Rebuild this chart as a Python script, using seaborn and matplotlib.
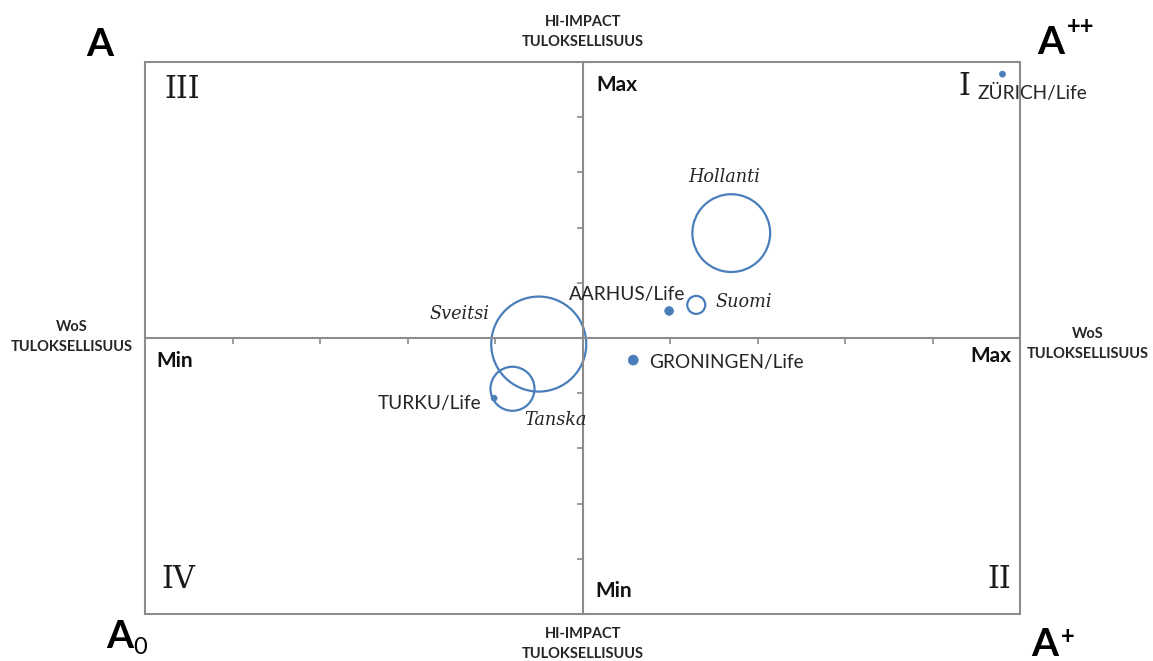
import pandas as pd
import matplotlib.pyplot as plt
import seaborn as sns

# Bubble data (x = WoS, y = HI-IMPACT, koko = bubble area, relative)
maat = ['Sveitsi', 'Hollanti', 'Tanska', 'Suomi']
maat_x = [-0.50, 1.70, -0.80, 1.30]
maat_y = [-0.11, 1.90, -0.92, 0.60]
maat_koko = [100, 67, 21.5, 3.6]

yksikot = ['ZÜRICH/Life', 'AARHUS/Life', 'GRONINGEN/Life', 'TURKU/Life']
yksikot_x = [4.80, 0.99, 0.58, -1.01]
yksikot_y = [4.78, 0.49, -0.40, -1.09]
yksikot_koko = [0.4, 0.85, 1.1, 0.4]

ticks = [-4, -3, -2, -1, 1, 2, 3, 4]

maat_df = pd.DataFrame({'nimi': maat, 'x': maat_x, 'y': maat_y, 'koko': maat_koko})
yks_df = pd.DataFrame({'nimi': yksikot, 'x': yksikot_x, 'y': yksikot_y, 'koko': yksikot_koko})

sns.set_style('white')
plt.rcParams['font.family'] = ['Lato', 'DejaVu Sans']

blue = '#4A7EBB'
gray = '#8C8C8C'

fig = plt.figure(figsize=(11.53, 6.61), dpi=100)
ax = fig.add_axes([145 / 1153, 1 - 614 / 661, 875 / 1153, 552 / 661])

sns.scatterplot(data=maat_df, x='x', y='y', size='koko', sizes=(0, 4680),
                size_norm=(0, 100), legend=False, ax=ax)
rings = ax.collections[-1]
rings.set_facecolor('none')
rings.set_edgecolor(blue)
rings.set_linewidth(1.6)

sns.scatterplot(data=yks_df, x='x', y='y', size='koko', sizes=(0, 4680),
                size_norm=(0, 100), legend=False, ax=ax)
dots = ax.collections[-1]
dots.set_facecolor(blue)
dots.set_edgecolor(blue)
dots.set_linewidth(0.5)

ax.set_xlim(-5, 5)
ax.set_ylim(-5, 5)
ax.set_xlabel('')
ax.set_ylabel('')

# center axes with ticks
ax.spines['left'].set_position(('data', 0))
ax.spines['bottom'].set_position(('data', 0))
ax.spines['top'].set_visible(False)
ax.spines['right'].set_visible(False)
for s in ['left', 'bottom']:
    ax.spines[s].set_color(gray)
    ax.spines[s].set_linewidth(1.5)
ax.set_xticks(ticks)
ax.set_yticks(ticks)
ax.tick_params(axis='both', direction='out', length=4, width=1.2, color=gray,
               labelbottom=False, labelleft=False, bottom=True, left=True)
frame = plt.Rectangle((0, 0), 1, 1, transform=ax.transAxes, fill=False,
                      edgecolor=gray, linewidth=1.5, clip_on=False)
ax.add_patch(frame)

# point labels
lab = dict(fontsize=13.7, color='#262626', va='center')
ax.text(4.51, 4.44, 'ZÜRICH/Life', ha='left', **lab)
ax.text(1.17, 0.78, 'AARHUS/Life', ha='right', **lab)
ax.text(0.76, -0.45, 'GRONINGEN/Life', ha='left', **lab)
ax.text(-1.15, -1.18, 'TURKU/Life', ha='right', **lab)

ser = dict(family='DejaVu Serif', style='italic', fontsize=12.7, color='#262626', va='center')
ax.text(1.62, 2.92, 'Hollanti', ha='center', **ser)
ax.text(1.52, 0.65, 'Suomi', ha='left', **ser)
ax.text(-1.06, 0.43, 'Sveitsi', ha='right', **ser)
ax.text(-0.67, -1.49, 'Tanska', ha='left', **ser)

# quadrant numerals
rom = dict(family='DejaVu Serif', fontsize=22, color='#1a1a1a', va='center')
ax.text(-4.78, 4.51, 'III', ha='left', **rom)
ax.text(4.29, 4.55, 'I', ha='left', **rom)
ax.text(-4.81, -4.37, 'IV', ha='left', **rom)
ax.text(4.90, -4.37, 'II', ha='right', **rom)

mm = dict(fontsize=15, fontweight='bold', color='#111111', va='center')
ax.text(0.16, 4.58, 'Max', ha='left', **mm)
ax.text(-4.87, -0.42, 'Min', ha='left', **mm)
ax.text(4.90, -0.33, 'Max', ha='right', **mm)
ax.text(0.15, -4.58, 'Min', ha='left', **mm)

# axis titles
tt = dict(fontsize=10.5, fontweight='bold', color='#262626', ha='center', va='center', linespacing=1.55)
fig.text(583 / 1153, 1 - 32 / 661, 'HI-IMPACT\nTULOKSELLISUUS', **tt)
fig.text(583 / 1153, 1 - 644 / 661, 'HI-IMPACT\nTULOKSELLISUUS', **tt)
fig.text(72 / 1153, 1 - 337 / 661, 'WoS\nTULOKSELLISUUS', **tt)
fig.text(1088 / 1153, 1 - 344 / 661, 'WoS\nTULOKSELLISUUS', **tt)

# corner labels
big = dict(fontsize=28, fontweight='bold', color='black', ha='center', va='center')
sm = dict(fontsize=17, fontweight='bold', color='black', ha='center', va='center')
fig.text(100 / 1153, 1 - 45 / 661, 'A', **big)
fig.text(1051 / 1153, 1 - 42 / 661, 'A', **big)
fig.text(1081 / 1153, 1 - 26 / 661, '++', **sm)
fig.text(120 / 1153, 1 - 637 / 661, 'A', **big)
fig.text(140 / 1153, 1 - 647 / 661, '0', fontsize=17, color='black', ha='center', va='center')
fig.text(1045 / 1153, 1 - 645 / 661, 'A', **big)
fig.text(1068 / 1153, 1 - 636 / 661, '+', **sm)

fig.savefig('out.png', dpi=100)
